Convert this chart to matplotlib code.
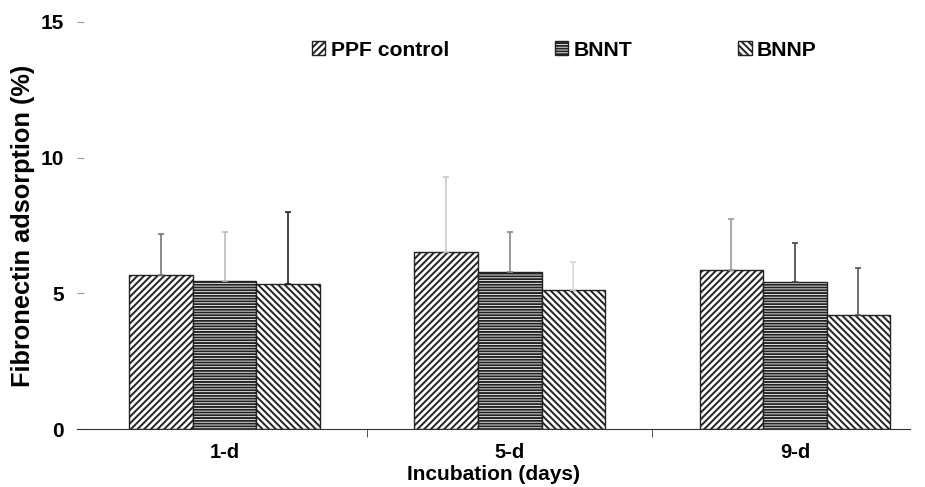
import matplotlib.pyplot as plt
import numpy as np

plt.rcParams['font.family'] = ['Liberation Sans', 'DejaVu Sans']
plt.rcParams['hatch.linewidth'] = 1.4

gruppi = ["1-d", "5-d", "9-d"]
serie = ["PPF control", "BNNT", "BNNP"]
medie = {
    "PPF control": [5.67, 6.54, 5.85],
    "BNNT": [5.44, 5.79, 5.41],
    "BNNP": [5.33, 5.11, 4.20],
}
errori = {
    "PPF control": [1.51, 2.76, 1.90],
    "BNNT": [1.81, 1.48, 1.43],
    "BNNP": [2.66, 1.03, 1.72],
}
tratteggi = {"PPF control": "/////", "BNNT": "------", "BNNP": "\\\\\\\\\\"}
# grigi delle barre d'errore (diversi per ogni barra, come nell'originale)
col_err = {
    "PPF control": ["#777777", "#c8c8c8", "#999999"],
    "BNNT": ["#bbbbbb", "#888888", "#444444"],
    "BNNP": ["#222222", "#d5d5d5", "#555555"],
}

fig = plt.figure(figsize=(9.25, 4.87), dpi=100)
ax = fig.add_axes([0.0832, 0.119, 0.901, 0.836])

x = np.arange(len(gruppi))
w = 0.223
for i, s in enumerate(serie):
    pos = x + (i - 1) * w
    ax.bar(pos, medie[s], width=w, color="white", edgecolor="#222222",
           hatch=tratteggi[s], linewidth=1.0, label=s)
    for j in range(len(gruppi)):
        ax.errorbar(pos[j], medie[s][j], yerr=[[0], [errori[s][j]]], fmt="none",
                    ecolor=col_err[s][j], elinewidth=1.2, capsize=2.5, capthick=1.2)

ax.set_xlim(-0.518, 2.405)
ax.set_ylim(0, 15)
ax.set_yticks([0, 5, 10, 15])
ax.set_xticks(x)
ax.set_xticklabels(gruppi, fontsize=14.5, fontweight="bold")
ax.set_xticks([0.5, 1.5], minor=True)
ax.tick_params(axis="x", which="major", length=0, pad=10)
ax.tick_params(axis="x", which="minor", length=6, direction="out", color="#333333")
ax.tick_params(axis="y", length=5, direction="in", color="#999999", labelsize=15, pad=9.5)
for lab in ax.get_yticklabels():
    lab.set_fontweight("bold")

for sp in ["top", "right", "left"]:
    ax.spines[sp].set_visible(False)
ax.spines["bottom"].set_color("#333333")

ax.set_ylabel("Fibronectin adsorption (%)", fontsize=18.3, fontweight="bold", labelpad=4)
ax.set_xlabel("Incubation (days)", fontsize=15, fontweight="bold")
ax.xaxis.set_label_coords(0.5, -0.125)
ax.xaxis.label.set_va("baseline")

ax.legend(ncol=3, loc="center left", bbox_to_anchor=(0.337, 0.897),
          bbox_transform=fig.transFigure, frameon=False, borderpad=0, borderaxespad=0,
          prop={"weight": "bold", "size": 15.2}, handlelength=0.65, handleheight=0.65,
          handletextpad=0.25, columnspacing=5.0)

plt.savefig("out.png", dpi=100)
